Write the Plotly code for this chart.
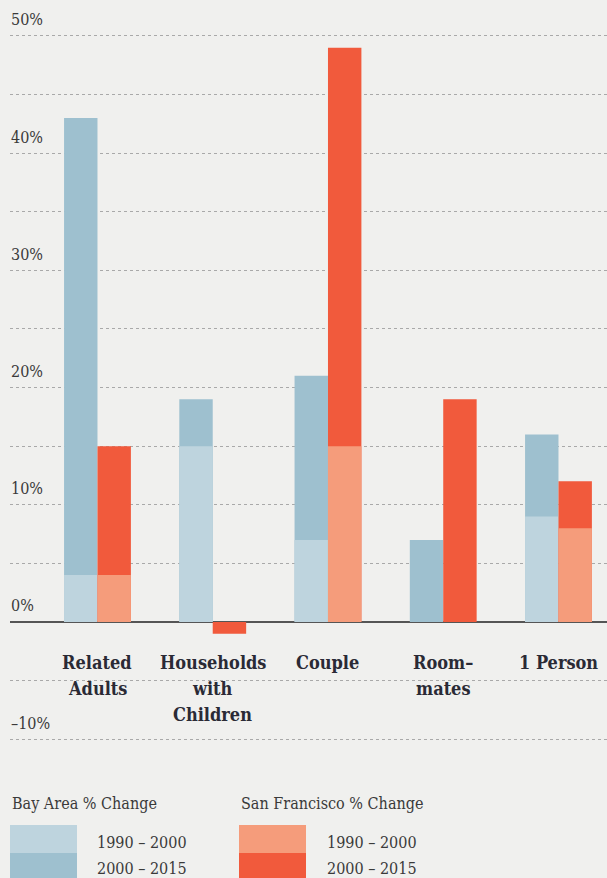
import plotly.graph_objects as go

categories = ["Related Adults", "Households with Children", "Couple", "Roommates", "1 Person"]
label_lines = [["Related", "Adults"], ["Households", "with", "Children"], ["Couple"], ["Room–", "mates"], ["1 Person"]]
bay_1990_2000 = [4, 15, 7, 0, 9]
bay_2000_2015 = [43, 19, 21, 7, 16]
sf_1990_2000 = [4, 0, 15, 0, 8]
sf_2000_2015 = [15, -1, 49, 19, 12]
tick_vals = [-10, 0, 10, 20, 30, 40, 50]
tick_text = ["–10%", "0%", "10%", "20%", "30%", "40%", "50%"]

C_BAY_LIGHT = "#bed4de"
C_BAY_DARK = "#9ec0cf"
C_SF_LIGHT = "#f59c7b"
C_SF_DARK = "#f15a3c"
BG = "#f0f0ee"
TXT = "#3a3a3a"
LABEL_FONT = "DejaVu Serif Condensed"

xs = list(range(len(categories)))

fig = go.Figure()
fig.add_trace(go.Bar(x=xs, y=bay_2000_2015, marker_color=C_BAY_DARK, offsetgroup="bay", name="Bay 2000-2015"))
fig.add_trace(go.Bar(x=xs, y=bay_1990_2000, marker_color=C_BAY_LIGHT, offsetgroup="bay", name="Bay 1990-2000"))
fig.add_trace(go.Bar(x=xs, y=sf_2000_2015, marker_color=C_SF_DARK, offsetgroup="sf", name="SF 2000-2015"))
fig.add_trace(go.Bar(x=xs, y=sf_1990_2000, marker_color=C_SF_LIGHT, offsetgroup="sf", name="SF 1990-2000"))
fig.update_traces(marker_line_width=0)

annotations = []
for i, lines in enumerate(label_lines):
    for j, line in enumerate(lines):
        annotations.append(dict(
            x=i, y=0, xref="x", yref="y", text=line, showarrow=False,
            yanchor="middle", xanchor="center", yshift=-41 - 26 * j,
            font=dict(family=LABEL_FONT, size=18, color="#2a2a35", weight="bold"),
        ))

W, H = 607, 878
PLOT_L, PLOT_R, PLOT_T, PLOT_B = 10, 607, 0, 760

legend_groups = [
    (10, 95, "Bay Area % Change", C_BAY_LIGHT, C_BAY_DARK),
    (239, 325, "San Francisco % Change", C_SF_LIGHT, C_SF_DARK),
]

def to_paper_x(px):
    return (px - PLOT_L) / (PLOT_R - PLOT_L)

def to_paper_y(pyx):
    return (PLOT_B - pyx) / (PLOT_B - PLOT_T)

shapes = []
for x0, tx, title, cl, cd in legend_groups:
    for txt, yy in [(title, 803), ("1990 – 2000", 842), ("2000 – 2015", 868)]:
        annotations.append(dict(x=to_paper_x(x0 if txt == title else tx), y=to_paper_y(yy),
                                xref="paper", yref="paper", text=txt, showarrow=False,
                                xanchor="left", yanchor="middle",
                                font=dict(family=LABEL_FONT, size=16, color=TXT)))
    shapes.append(dict(type="rect", x0=to_paper_x(x0), x1=to_paper_x(x0 + 67),
                       y0=to_paper_y(825), y1=to_paper_y(853), xref="paper", yref="paper",
                       fillcolor=cl, line_width=0))
    shapes.append(dict(type="rect", x0=to_paper_x(x0), x1=to_paper_x(x0 + 67),
                       y0=to_paper_y(853), y1=to_paper_y(895), xref="paper", yref="paper",
                       fillcolor=cd, line_width=0))

fig.update_layout(
    width=W, height=H,
    margin=dict(l=PLOT_L, r=W - PLOT_R, t=PLOT_T, b=H - PLOT_B),
    paper_bgcolor=BG, plot_bgcolor=BG,
    barmode="group", bargap=0.42, bargroupgap=0,
    showlegend=False,
    annotations=annotations, shapes=shapes,
    xaxis=dict(range=[-0.759, 4.421], showticklabels=False, showgrid=False, zeroline=False,
               tickvals=xs, fixedrange=True),
    yaxis=dict(range=[-11.78, 53.07], tickvals=tick_vals, ticktext=tick_text,
               ticklabelposition="inside top", ticks="", ticklabelstandoff=-2, ticklabelshift=-5,
               tickfont=dict(family=LABEL_FONT, size=16, color=TXT),
               showgrid=True, gridcolor="#a9a9a9", griddash="dot", gridwidth=1,
               minor=dict(dtick=5, tick0=0, showgrid=True, gridcolor="#a9a9a9", griddash="dot", gridwidth=1),
               zeroline=True, zerolinecolor="#555555", zerolinewidth=2, showline=False),
)

fig.write_html("out.html", config={"displayModeBar": False},
               post_script="document.body.style.margin='0';document.body.style.background='%s';" % BG)
